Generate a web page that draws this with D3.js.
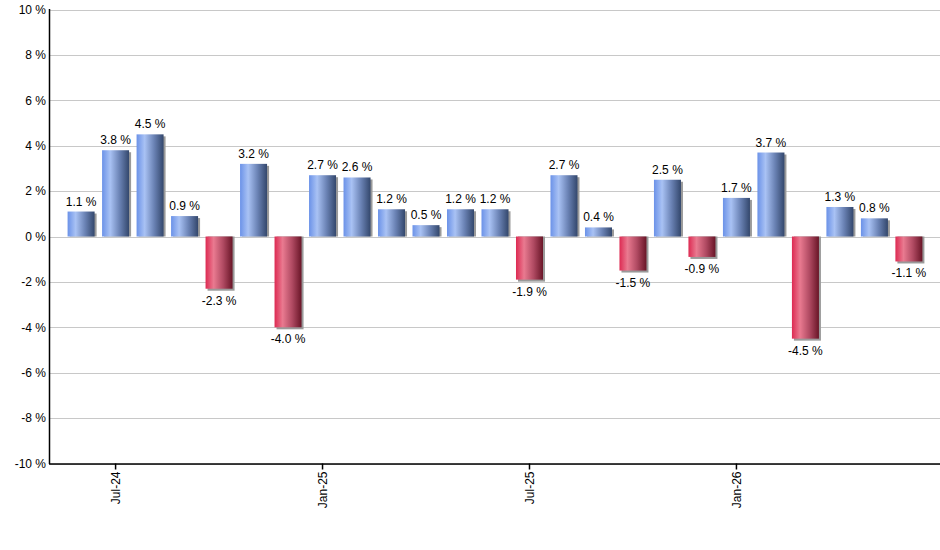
<!DOCTYPE html>
<html><head><meta charset="utf-8">
<script src="https://cdn.jsdelivr.net/npm/d3@7"></script>
<style>body{margin:0;background:#fff}svg{display:block}text{font-family:Arial,"Liberation Sans",sans-serif}</style>
</head><body>
<svg id="c" width="940" height="550"></svg>
<script>
const months = ["Jun-24","Jul-24","Aug-24","Sep-24","Oct-24","Nov-24","Dec-24","Jan-25","Feb-25","Mar-25","Apr-25","May-25","Jun-25","Jul-25","Aug-25","Sep-25","Oct-25","Nov-25","Dec-25","Jan-26","Feb-26","Mar-26","Apr-26","May-26","Jun-26"];
const values = [1.1,3.8,4.5,0.9,-2.3,3.2,-4.0,2.7,2.6,1.2,0.5,1.2,1.2,-1.9,2.7,0.4,-1.5,2.5,-0.9,1.7,3.7,-4.5,1.3,0.8,-1.1];
const xTickLabels = ["Jul-24","Jan-25","Jul-25","Jan-26"];
const yTicks = [-10,-8,-6,-4,-2,0,2,4,6,8,10];

const svg = d3.select("#c");
const L = 50, R = 940, T = 9.5, B = 463.5;
const x = d3.scaleBand().domain(months).range([L, R]).paddingInner(0.217).paddingOuter(0.51);
const y = d3.scaleLinear().domain([-10, 10]).range([B, T]);

const defs = svg.append("defs");
function grad(id, stops) {
  const g = defs.append("linearGradient").attr("id", id).attr("x1","0").attr("x2","1").attr("y1","0").attr("y2","0");
  stops.forEach(([o,c]) => g.append("stop").attr("offset", o).attr("stop-color", c));
}
grad("gb", [["0%","#6b92e8"],["30%","#a9c2f4"],["65%","#6a82b4"],["100%","#33476c"]]);
grad("gr", [["0%","#dd2a52"],["30%","#e97a90"],["65%","#b04a62"],["100%","#691527"]]);

// gridlines
svg.append("g").selectAll("line").data(yTicks).join("line")
  .attr("x1", L).attr("x2", R).attr("y1", d => Math.round(y(d))+0.5).attr("y2", d => Math.round(y(d))+0.5)
  .attr("stroke", "#c8c8c8").attr("stroke-width", 1);

// y labels
svg.append("g").selectAll("text").data(yTicks).join("text")
  .attr("x", 46).attr("y", d => y(d)).attr("dy", "0.35em").attr("text-anchor", "end")
  .attr("font-size", 12).attr("fill", "#000").text(d => d + " %");

// shadows
svg.append("g").selectAll("rect").data(values).join("rect")
  .attr("x", (d,i) => x(months[i]) + 2)
  .attr("y", d => Math.min(y(d), y(0)) + (d > 0 ? 2 : 0))
  .attr("width", x.bandwidth())
  .attr("height", d => Math.abs(y(d) - y(0)) + (d > 0 ? -2 : 2))
  .attr("fill", "#9a9a9a");

// bars
svg.append("g").selectAll("rect").data(values).join("rect")
  .attr("x", (d,i) => x(months[i]))
  .attr("y", d => Math.min(y(d), y(0)))
  .attr("width", x.bandwidth())
  .attr("height", d => Math.abs(y(d) - y(0)))
  .attr("fill", d => d >= 0 ? "url(#gb)" : "url(#gr)");

// value labels
svg.append("g").selectAll("text").data(values).join("text")
  .attr("x", (d,i) => x(months[i]) + x.bandwidth()/2)
  .attr("y", d => d >= 0 ? y(d) - 6 : y(d) + 16)
  .attr("text-anchor", "middle").attr("font-size", 12).attr("fill", "#000")
  .text(d => d.toFixed(1) + " %");

// axes lines
svg.append("line").attr("x1", L-0.5).attr("x2", L-0.5).attr("y1", T-0.5).attr("y2", B+0.5).attr("stroke", "#000").attr("stroke-width", 1.5);
svg.append("line").attr("x1", L-1).attr("x2", R).attr("y1", B+0.5).attr("y2", B+0.5).attr("stroke", "#000").attr("stroke-width", 1.5);

// x ticks
const xt = svg.append("g").selectAll("g").data(xTickLabels).join("g")
  .attr("transform", d => `translate(${x(d) + x.bandwidth()/2},${B})`);
xt.append("line").attr("y1", 0).attr("y2", 6).attr("stroke", "#000").attr("stroke-width", 1.5);
xt.append("text").attr("transform", "rotate(-90)").attr("x", -8).attr("dy", "0.35em")
  .attr("text-anchor", "end").attr("font-size", 12).attr("fill", "#000").text(d => d);
</script>
</body></html>
